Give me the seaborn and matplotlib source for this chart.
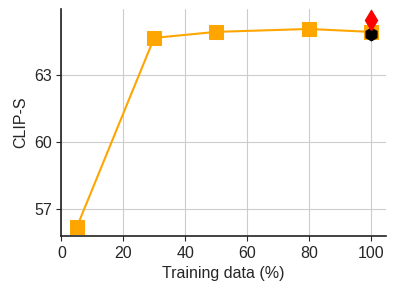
import numpy as np
import pandas as pd
import matplotlib
matplotlib.use('Agg')
import matplotlib.pyplot as plt
import seaborn as sns

# Data
train_pct = [5, 30, 50, 80, 100]
clip_s = [56.2, 64.66, 64.93, 65.06, 64.93]
red_x = [100]
red_y = [65.46]
black_x = [100]
black_y = [64.84]

sns.set_style('ticks')
plt.rcParams['font.family'] = ['Liberation Sans', 'DejaVu Sans']

df = pd.DataFrame({'pct': train_pct, 'clip': clip_s})

fig, ax = plt.subplots(figsize=(3.96, 2.95), dpi=100)
sns.lineplot(data=df, x='pct', y='clip', color='orange', marker='s',
             markersize=9.5, markeredgecolor='orange', linewidth=1.5, ax=ax)
ax.plot(black_x, black_y, marker='h', color='black', markersize=9, linestyle='none', zorder=5)
ax.plot(red_x, red_y, marker='d', color='red', markersize=10, linestyle='none', zorder=6)

ax.set_xlim(0, 105)
ax.set_ylim(55.8, 65.96)
ax.set_xticks([0, 20, 40, 60, 80, 100])
ax.set_yticks([57, 60, 63])
ax.grid(True, color='#cccccc', linewidth=0.8)
ax.set_axisbelow(True)
ax.set_xlabel('Training data (%)', fontsize=11.5)
ax.set_ylabel('CLIP-S', fontsize=11.5)
ax.tick_params(labelsize=11.5)
for s in ['left', 'bottom']:
    ax.spines[s].set_linewidth(1.2)
    ax.spines[s].set_color('#222222')
sns.despine(ax=ax)

fig.subplots_adjust(left=0.155, right=0.975, top=0.97, bottom=0.2)
fig.savefig('out.png', dpi=100)
